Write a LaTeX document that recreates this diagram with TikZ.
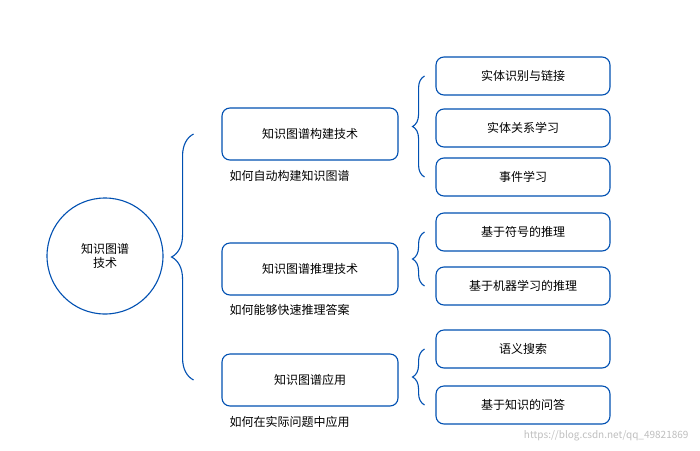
\documentclass[tikz,border=0pt]{standalone}
\usepackage{fontspec}
\setmainfont{Noto Sans CJK SC}
\usetikzlibrary{decorations.pathreplacing}
\begin{document}
\begin{tikzpicture}[x=1pt,y=-1pt,
  box/.style={draw=blue!55!cyan!70!black, line width=1.1pt, rounded corners=8pt, fill=white, font=\fontsize{12}{14}\selectfont},
  captxt/.style={font=\fontsize{12}{14}\selectfont, anchor=west},
  br/.style={draw=blue!55!cyan!70!black, line width=1.1pt, decorate, decoration={brace,amplitude=#1pt}}]
\useasboundingbox (0,0) rectangle (700,450);
\fill[white] (0,0) rectangle (700,450);
\node[box, circle, minimum size=116pt, align=center, rounded corners=0pt] (root) at (105,256) {知识图谱\\技术};
\foreach \n/\y/\t in {m1/134/知识图谱构建技术, m2/269/知识图谱推理技术, m3/380/知识图谱应用}
  \node[box, minimum width=176pt, minimum height=52pt] (\n) at (310,\y) {\t};
\node[captxt] (c1) at (226,176) {如何自动构建知识图谱};
\node[captxt] (c2) at (226,310) {如何能够快速推理答案};
\node[captxt] (c3) at (226,422) {如何在实际问题中应用};
\foreach \n/\y/\t in {r1/76/实体识别与链接, r2/128/实体关系学习, r3/177/事件学习, r4/232/基于符号的推理, r5/286/基于机器学习的推理, r6/349/语义搜索, r7/405/基于知识的问答}
  \node[box, minimum width=174pt, minimum height=38pt] (\n) at (523,\y) {\t};
\draw[br=22] ([xshift=30pt]root.east |- m3.west) -- ([xshift=30pt]root.east |- m1.west);
\draw[br=12] ([xshift=26pt]m1.east |- r3.west) -- ([xshift=26pt]m1.east |- r1.west);
\draw[br=12] ([xshift=26pt]m2.east |- r5.west) -- ([xshift=26pt]m2.east |- r4.west);
\draw[br=12] ([xshift=26pt]m3.east |- r7.west) -- ([xshift=26pt]m3.east |- r6.west);
\node[text=gray!50, font=\fontsize{10}{12}\selectfont, anchor=east] (wm) at (692,436) {https://blog.csdn.net/qq\_49821869};
\end{tikzpicture}
\end{document}
